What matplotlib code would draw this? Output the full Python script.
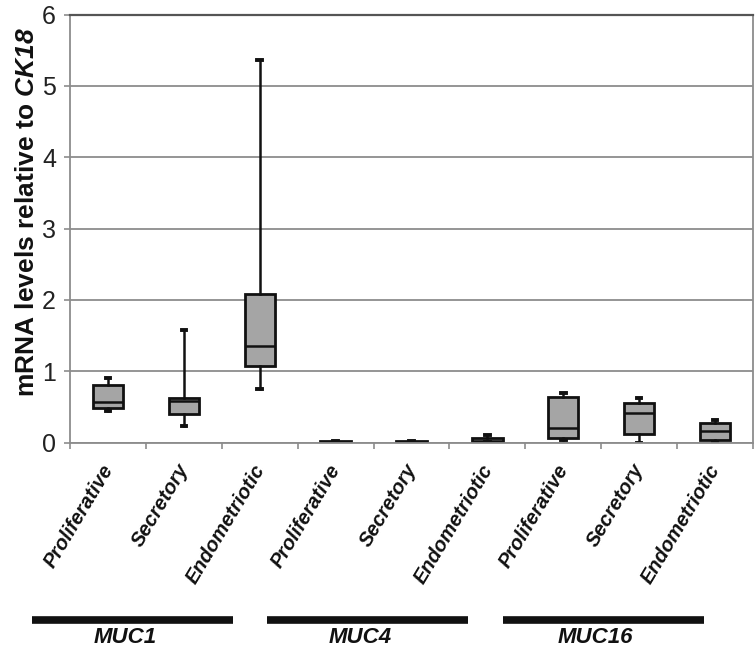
import matplotlib
matplotlib.use('Agg')
import matplotlib.pyplot as plt
import matplotlib.transforms as mtransforms

plt.rcParams['font.family'] = ['Liberation Sans', 'DejaVu Sans']
plt.rcParams['mathtext.fontset'] = 'custom'
plt.rcParams['mathtext.bfit'] = 'Liberation Sans:italic:bold'
plt.rcParams['mathtext.bf'] = 'Liberation Sans:bold'

# genes and tissue groups
genes = ['MUC1', 'MUC4', 'MUC16']
groups = ['Proliferative', 'Secretory', 'Endometriotic']

# box statistics (one entry per gene x group)
whislo = [0.45, 0.23, 0.75, 0.0, 0.0, 0.005, 0.04, 0.0, 0.01]
q1 = [0.48, 0.40, 1.08, 0.0, 0.0, 0.005, 0.07, 0.12, 0.04]
med = [0.57, 0.58, 1.36, 0.010, 0.012, 0.020, 0.20, 0.41, 0.16]
q3 = [0.81, 0.62, 2.09, 0.020, 0.025, 0.065, 0.64, 0.55, 0.27]
whishi = [0.90, 1.58, 5.36, 0.020, 0.025, 0.11, 0.69, 0.62, 0.32]

labels = groups * len(genes)
positions = list(range(1, len(labels) + 1))

stats = []
for i in range(len(labels)):
    stats.append(dict(whislo=whislo[i], q1=q1[i], med=med[i], q3=q3[i],
                      whishi=whishi[i], fliers=[], label=labels[i]))

fig = plt.figure(figsize=(7.56, 6.5), dpi=100)
ax = fig.add_axes([70 / 756, 1 - 442.7 / 650, 683 / 756, 428.2 / 650])
ax.set_axisbelow(True)

ink = '#111111'
ax.bxp(stats, positions=positions, widths=0.4, capwidths=0.06,
       patch_artist=True, showfliers=False,
       boxprops=dict(facecolor='#a5a5a5', edgecolor=ink, linewidth=2.0),
       medianprops=dict(color=ink, linewidth=1.8),
       whiskerprops=dict(color=ink, linewidth=1.8),
       capprops=dict(color=ink, linewidth=2.8))

ax.set_xlim(0.5, 9.5)
ax.set_ylim(0, 6)
ax.set_yticks(range(7))
ax.yaxis.grid(True, color='#8c8c8c', linewidth=1.3)

# category boundaries as small ticks, labels at the centres
ax.set_xticks([p + 0.5 for p in [0] + positions])
ax.set_xticklabels([])
ax.set_xticks(positions, minor=True)
ax.set_xticklabels(labels, minor=True, rotation=59, ha='right', va='top',
                   fontsize=14.5, fontweight='bold', fontstyle='italic',
                   color=ink)
ax.tick_params(axis='x', which='major', length=4, color='#8c8c8c', width=1.2)
ax.tick_params(axis='x', which='minor', length=0, pad=13)
shift = mtransforms.ScaledTranslation(0.09, 0, fig.dpi_scale_trans)
for lbl in ax.get_xticklabels(minor=True):
    lbl.set_transform(lbl.get_transform() + shift)

ax.tick_params(axis='y', length=4, color='#8c8c8c', width=1.2,
               labelsize=18, labelcolor='#222222', pad=6)

for side in ['left', 'bottom', 'right']:
    ax.spines[side].set_color('#8c8c8c')
    ax.spines[side].set_linewidth(1.3)
ax.spines['top'].set_color('#555555')
ax.spines['top'].set_linewidth(1.6)

# gene group bars under the labels
trans = mtransforms.blended_transform_factory(ax.transData, ax.transAxes)
for g, gene in enumerate(genes):
    start = 3 * g + 0.1 * g
    end = start + 2.65
    ax.plot([start, end], [-0.414, -0.414], transform=trans, color=ink,
            linewidth=5.5, solid_capstyle='butt', clip_on=False)
    ax.text((start + end) / 2 - 0.1, -0.456, gene, transform=trans,
            ha='center', va='center', fontsize=16, fontweight='bold',
            fontstyle='italic', color=ink)

fig.text(27 / 756, 1 - 212 / 650, r'mRNA levels relative to $\mathbfit{CK18}$',
         rotation=90, ha='center', va='center', fontsize=19, fontweight='bold',
         color=ink)

fig.savefig('out.png', dpi=100)
